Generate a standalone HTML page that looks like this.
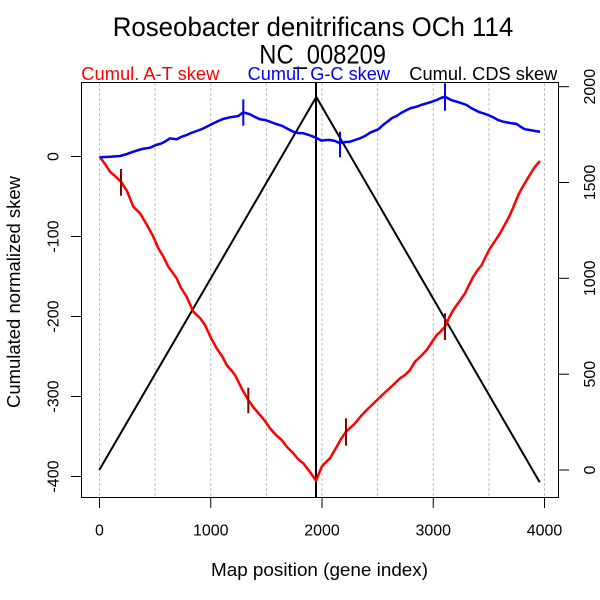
<!DOCTYPE html>
<html><head><meta charset="utf-8"><style>
html,body{margin:0;padding:0;background:#fff;}
svg{display:block;}
text{font-family:"Liberation Sans",Arial,sans-serif;}
</style></head><body>
<svg width="600" height="600" viewBox="0 0 600 600" xmlns="http://www.w3.org/2000/svg">
<rect x="0" y="0" width="600" height="600" fill="#fff"/>
<!-- grid -->
<g stroke="#bebebe" stroke-width="1" stroke-dasharray="3 2">
<line x1="99.5" y1="83" x2="99.5" y2="497"/>
<line x1="155.1" y1="83" x2="155.1" y2="497"/>
<line x1="210.75" y1="83" x2="210.75" y2="497"/>
<line x1="266.4" y1="83" x2="266.4" y2="497"/>
<line x1="322" y1="83" x2="322" y2="497"/>
<line x1="377.6" y1="83" x2="377.6" y2="497"/>
<line x1="433.25" y1="83" x2="433.25" y2="497"/>
<line x1="488.9" y1="83" x2="488.9" y2="497"/>
<line x1="544.5" y1="83" x2="544.5" y2="497"/>
</g>
<!-- black CDS -->
<polyline fill="none" stroke="#000" stroke-width="2" points="99.3,470 316.3,97 539.7,482.3"/>
<line x1="316" y1="82" x2="316" y2="498" stroke="#000" stroke-width="2"/>
<!-- red AT -->
<polyline fill="none" stroke="#ff0000" stroke-width="2.5" stroke-linejoin="round" points="99.5,156.5 105,164 110,171.7 116,177 121,181.7 127,191 133.3,206.7 140,213.3 147,225 153.3,236.7 158.3,248.3 163,256 168.3,266.7 176.7,278.3 181,288 186.7,296.7 193.3,311.7 200,318 205,325 211,338 216.7,348.3 222,356 226.7,365 231,370 235,375 242,389 248.3,400 254,408 260,415 265,421 270,428.3 276,435 281.7,440 287,447 293.3,453.3 298,459 303.3,463.3 310,472 316,480.7 321.7,466.7 325,463 330,458.3 336.7,446.7 341,439 346,431.7 350,428 355,423.3 361,416 366.7,410 375,402 383.3,394 392,386 400,378.3 405,375 410,370 415,361.7 421,356 426.7,350 432,342 436.7,335 440,332 445,326.7 449,318 453.3,310 459,302 465,293.3 469,285 473.3,276.7 477,271 481.7,265 486,256 490,248.3 495,241 500,233.3 504,226 508.3,218.3 513,208 518.3,195 522,188 526.7,180 531,173 535,166.7 540,161"/>
<g stroke="#8b0000" stroke-width="2">
<line x1="121" y1="169" x2="121" y2="195.7"/>
<line x1="248.3" y1="387.7" x2="248.3" y2="413.3"/>
<line x1="346" y1="418.3" x2="346" y2="445.7"/>
<line x1="445" y1="313.3" x2="445" y2="340"/>
</g>
<!-- blue GC -->
<polyline fill="none" stroke="#0000ff" stroke-width="2.5" stroke-linejoin="round" points="100,157.3 110,156.7 120,156 127,154 133.3,151.7 142,149 150,147.7 156,145 161.7,143.3 166,141 170,138.3 176.7,139.3 181,137 186.7,135 191,133 196.7,131 202,129 206.7,126.7 212,124 216.7,121.7 223,119 230,117.3 238.3,116 243.3,112.3 250,114.3 255,117 260,119.3 265,120 270,121.7 276,124 281.7,125.7 288,129 293.3,131.7 298,133 303.3,133.3 309,135 315,137.3 321.7,140.7 326,140 330,140 335,141 340,143.3 345,142 350,141.7 355,140 360,138.3 365,136 370,132.7 378.3,129.3 383,125 388.3,121 392,118 396.7,116 401,113 406.7,110 411,108 416.7,106.7 421,105 426.7,103.3 431,102 436.7,100 441,98 445,96.7 451,100 456.7,101.7 461,103 466.7,105 471,108 475,110 479,112 483.3,113.3 488,115 493.3,117.3 498,120 503.3,121.7 510,123 516.7,124 521,127 525,129.3 530,130 535,131 540,131.7"/>
<g stroke="#0000ff" stroke-width="2">
<line x1="243.3" y1="99.3" x2="243.3" y2="125.7"/>
<line x1="340" y1="131.7" x2="340" y2="157.3"/>
<line x1="445" y1="83.3" x2="445" y2="110.7"/>
</g>
<!-- box -->
<rect x="81.5" y="82.5" width="477" height="415" fill="none" stroke="#000" stroke-width="1"/>
<!-- ticks -->
<g stroke="#000" stroke-width="1">
<line x1="71" y1="156.5" x2="81.5" y2="156.5"/>
<line x1="71" y1="236.5" x2="81.5" y2="236.5"/>
<line x1="71" y1="316.5" x2="81.5" y2="316.5"/>
<line x1="71" y1="396.5" x2="81.5" y2="396.5"/>
<line x1="71" y1="476.5" x2="81.5" y2="476.5"/>
<line x1="558.5" y1="470" x2="569" y2="470"/>
<line x1="558.5" y1="374.2" x2="569" y2="374.2"/>
<line x1="558.5" y1="278.3" x2="569" y2="278.3"/>
<line x1="558.5" y1="182.5" x2="569" y2="182.5"/>
<line x1="558.5" y1="86.7" x2="569" y2="86.7"/>
<line x1="99.5" y1="497.5" x2="99.5" y2="508"/>
<line x1="210.75" y1="497.5" x2="210.75" y2="508"/>
<line x1="322" y1="497.5" x2="322" y2="508"/>
<line x1="433.25" y1="497.5" x2="433.25" y2="508"/>
<line x1="544.5" y1="497.5" x2="544.5" y2="508"/>
</g>
<!-- tick labels -->
<g font-size="16" fill="#000" text-anchor="middle">
<text x="99.5" y="535.7">0</text>
<text x="210.75" y="535.7">1000</text>
<text x="322" y="535.7">2000</text>
<text x="433.25" y="535.7">3000</text>
<text x="544.5" y="535.7">4000</text>
<text transform="translate(58.3,156.5) rotate(-90)" x="0" y="0">0</text>
<text transform="translate(58.3,236.5) rotate(-90)" x="0" y="0">-100</text>
<text transform="translate(58.3,316.5) rotate(-90)" x="0" y="0">-200</text>
<text transform="translate(58.3,396.5) rotate(-90)" x="0" y="0">-300</text>
<text transform="translate(58.3,476.5) rotate(-90)" x="0" y="0">-400</text>
<text transform="translate(595,470) rotate(-90)" x="0" y="0">0</text>
<text transform="translate(595,374.2) rotate(-90)" x="0" y="0">500</text>
<text transform="translate(595,278.3) rotate(-90)" x="0" y="0">1000</text>
<text transform="translate(595,182.5) rotate(-90)" x="0" y="0">1500</text>
<text transform="translate(595,86.7) rotate(-90)" x="0" y="0">2000</text>
</g>
<!-- axis labels -->
<text x="211" y="576" font-size="18" textLength="217" lengthAdjust="spacingAndGlyphs">Map position (gene index)</text>
<text transform="translate(20,408) rotate(-90)" x="0" y="0" font-size="18" textLength="232" lengthAdjust="spacingAndGlyphs">Cumulated normalized skew</text>
<!-- titles -->
<text x="112.7" y="36" font-size="27" textLength="400.6" lengthAdjust="spacingAndGlyphs">Roseobacter denitrificans OCh 114</text>
<text x="259.3" y="63.3" font-size="27" textLength="126.7" lengthAdjust="spacingAndGlyphs">NC_008209</text>
<!-- legend row -->
<text x="81.3" y="80" font-size="18" fill="#ff0000" textLength="138" lengthAdjust="spacingAndGlyphs">Cumul. A-T skew</text>
<text x="247.7" y="80" font-size="18" fill="#0000ff" textLength="142.3" lengthAdjust="spacingAndGlyphs">Cumul. G-C skew</text>
<text x="409.3" y="80" font-size="18" fill="#000" textLength="148" lengthAdjust="spacingAndGlyphs">Cumul. CDS skew</text>
</svg>
</body></html>
